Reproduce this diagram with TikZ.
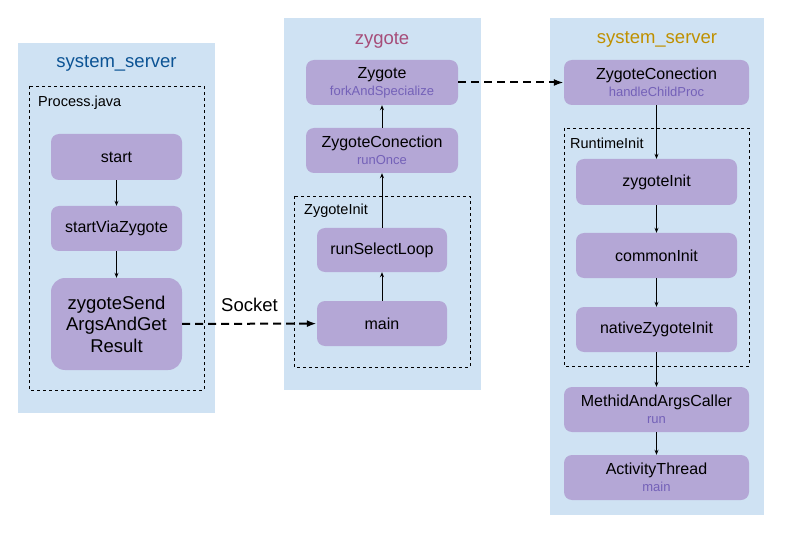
\documentclass[tikz,border=0pt]{standalone}
\usepackage{fontspec}
\setmainfont{Liberation Sans}
\usetikzlibrary{arrows.meta}

\definecolor{panelblue}{HTML}{CFE2F3}
\definecolor{procpurple}{HTML}{B4A7D6}
\definecolor{subpurple}{HTML}{7461B8}
\definecolor{titleblue}{HTML}{0B5394}
\definecolor{titlered}{HTML}{A64D79}
\definecolor{titlegold}{HTML}{BF9000}

\newcommand{\callsub}[1]{\\[0pt]{\fontsize{13}{15}\selectfont\color{subpurple}#1}}

\tikzset{
  proc/.style={rectangle, rounded corners=8pt, fill=procpurple, align=center,
    inner sep=0pt, font=\fontsize{16}{17}\selectfont},
  calls/.style={-{Stealth[length=5pt,width=4pt]}, line width=0.8pt},
  ipc/.style={-{Latex[length=10pt,width=7pt]}, line width=2pt, dash pattern=on 8pt off 5pt},
  group/.style={dashed, line width=0.7pt},
  paneltitle/.style={font=\fontsize{18.5}{20}\selectfont},
  grouplabel/.style={anchor=west, inner sep=0pt, font=\fontsize{14.5}{16}\selectfont}
}

\begin{document}
\begin{tikzpicture}[x=1pt,y=-1pt]
	\useasboundingbox (0,0) rectangle (789,537);
	\fill[panelblue] (18,43) rectangle (215,413);
	\fill[panelblue] (284,18) rectangle (481,390);
	\fill[panelblue] (550,18) rectangle (764,515);

	\node[paneltitle, text=titleblue] (title1) at (116.5,63) {system\_server};
	\node[paneltitle, text=titlered] (title2) at (382,40) {zygote};
	\node[paneltitle, text=titlegold] (title3) at (657,39) {system\_server};

	\draw[group] (29,86) rectangle (204,390);
	\node[grouplabel] (process) at (38,103) {Process.java};
	\node[proc, minimum width=131, minimum height=46] (start) at (116.5,157) {start};
	\node[proc, minimum width=131, minimum height=45] (viazygote) at (116.5,228.5) {startViaZygote};
	\node[proc, minimum width=131, minimum height=92, rounded corners=14pt, font=\fontsize{18.5}{21.5}\selectfont] (sendargs) at (116.5,324) {zygoteSend\\ArgsAndGet\\Result};

	\node[proc, minimum width=152, minimum height=45] (zygote) at (382,82.5) {Zygote\callsub{forkAndSpecialize}};
	\node[proc, minimum width=152, minimum height=45] (runonce) at (382,150.5) {ZygoteConection\callsub{runOnce}};
	\draw[group] (294,196) rectangle (470,367);
	\node[grouplabel] (zinit) at (304,211) {ZygoteInit};
	\node[proc, minimum width=130, minimum height=44] (selectloop) at (382,250) {runSelectLoop};
	\node[proc, minimum width=130, minimum height=45] (zmain) at (382,323.5) {main};

	\node[proc, minimum width=185, minimum height=45] (childproc) at (656.5,82.5) {ZygoteConection\callsub{handleChildProc}};
	\draw[group] (564,128) rectangle (749,366);
	\node[grouplabel] (rtinit) at (570,143) {RuntimeInit};
	\node[proc, minimum width=161, minimum height=46] (zygoteinit) at (656.5,182) {zygoteInit};
	\node[proc, minimum width=161, minimum height=45] (commoninit) at (656.5,255.5) {commonInit};
	\node[proc, minimum width=161, minimum height=45] (nativeinit) at (656.5,329.5) {nativeZygoteInit};
	\node[proc, minimum width=185, minimum height=45] (caller) at (656.5,409.5) {MethidAndArgsCaller\callsub{run}};
	\node[proc, minimum width=185, minimum height=45] (activity) at (656.5,477.5) {ActivityThread\callsub{main}};

	\draw[calls] (start) -- (viazygote);
	\draw[calls] (viazygote) -- (sendargs);
	\draw[calls] (zmain) -- (selectloop);
	\draw[calls] (selectloop) -- (runonce);
	\draw[calls] (runonce) -- (zygote);
	\draw[calls] (childproc) -- (zygoteinit);
	\draw[calls] (zygoteinit) -- (commoninit);
	\draw[calls] (commoninit) -- (nativeinit);
	\draw[calls] (nativeinit) -- (caller);
	\draw[calls] (caller) -- (activity);

	\draw[ipc] (sendargs) -- node[above=8pt, font=\fontsize{18.5}{20}\selectfont] {Socket} (zmain);
	\draw[ipc] (zygote) -- (childproc);
\end{tikzpicture}
\end{document}
